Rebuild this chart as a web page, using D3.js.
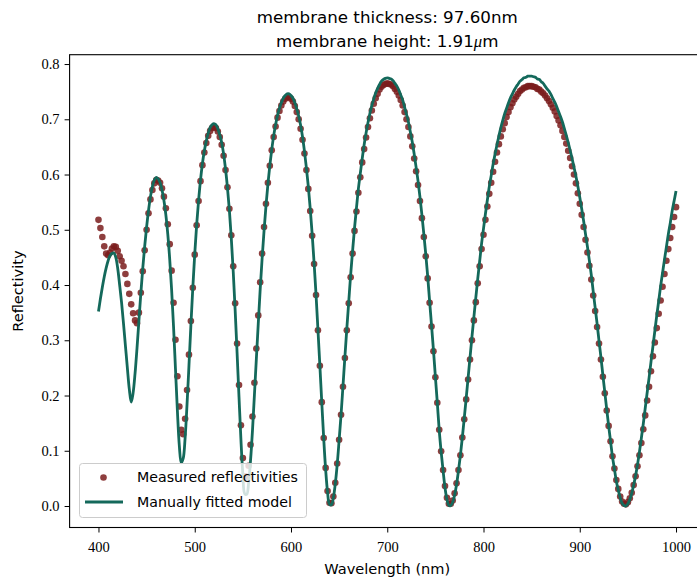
<!DOCTYPE html>
<html><head><meta charset="utf-8">
<script src="https://cdn.jsdelivr.net/npm/d3@7"></script>
<style>body{margin:0;background:#fff}</style>
</head><body><svg id="c" width="697" height="584"></svg>
<script>
// ---- data ----
const wavelengths = d3.range(400, 1001, 2);
const measured = [
.518,.503,.487,.470,.457,.454,.459,.466,.470,.469,
.462,.452,.444,.434,.420,.402,.384,.365,.349,.336,
.331,.350,.386,.425,.463,.500,.530,.555,.572,.584,
.590,.589,.585,.575,.560,.539,.510,.474,.426,.368,
.301,.235,.180,.138,.130,.158,.210,.274,.335,.395,
.455,.508,.552,.588,.617,.640,.657,.670,.679,.684,
.686,.684,.678,.668,.654,.634,.608,.577,.538,.490,
.434,.367,.294,.219,.146,.087,.054,.053,.073,.111,
.162,.223,.285,.345,.405,.457,.505,.547,.585,.616,
.644,.668,.687,.703,.715,.725,.732,.737,.740,.740,
.737,.732,.724,.713,.700,.683,.663,.638,.608,.574,
.534,.489,.438,.382,.318,.254,.188,.123,.069,.027,
.006,.005,.017,.042,.077,.120,.165,.216,.268,.318,
.367,.414,.457,.498,.533,.567,.595,.622,.646,.667,
.686,.702,.716,.728,.738,.746,.754,.759,.762,.764,
.765,.764,.763,.760,.755,.750,.743,.735,.725,.713,
.700,.686,.669,.651,.629,.606,.581,.552,.521,.487,
.452,.412,.368,.325,.280,.233,.187,.138,.099,.065,
.036,.015,.004,.004,.010,.023,.041,.065,.092,.124,
.157,.193,.229,.265,.300,.336,.369,.403,.434,.465,
.491,.518,.542,.565,.585,.605,.623,.640,.655,.669,
.682,.693,.704,.713,.722,.729,.736,.741,.746,.751,
.754,.757,.758,.760,.760,.760,.759,.758,.755,.754,
.750,.747,.743,.738,.733,.727,.721,.714,.706,.698,
.689,.679,.668,.656,.643,.630,.615,.600,.584,.566,
.547,.527,.505,.482,.459,.435,.410,.381,.353,.324,
.294,.265,.234,.204,.173,.145,.117,.090,.068,.047,
.031,.017,.008,.004,.003,.007,.014,.024,.038,.054,
.072,.092,.114,.139,.164,.191,.216,.244,.271,.296,
.322,.348,.372,.397,.420,.444,.465,.485,.505,.523,
.541];
const model = [
.352,.375,.396,.415,.431,.444,.453,.457,.458,.450,
.430,.400,.368,.330,.290,.250,.212,.188,.205,.240,
.285,.335,.385,.430,.470,.505,.535,.560,.578,.590,
.595,.592,.585,.572,.553,.527,.492,.447,.391,.324,
.248,.172,.109,.078,.086,.123,.184,.254,.327,.395,
.456,.509,.553,.590,.620,.643,.661,.675,.685,.690,
.692,.690,.683,.672,.658,.637,.610,.576,.535,.484,
.424,.354,.277,.197,.120,.057,.022,.021,.042,.083,
.137,.201,.266,.330,.392,.448,.498,.543,.582,.616,
.645,.670,.690,.707,.720,.730,.738,.743,.746,.746,
.743,.738,.730,.719,.706,.689,.668,.642,.612,.578,
.538,.492,.440,.383,.319,.254,.187,.122,.066,.025,
.003,.002,.015,.040,.075,.119,.165,.217,.270,.321,
.370,.419,.462,.503,.539,.574,.602,.629,.654,.675,
.694,.711,.725,.737,.748,.756,.763,.769,.772,.774,
.775,.774,.773,.770,.765,.760,.753,.744,.735,.722,
.709,.695,.677,.659,.637,.613,.588,.559,.527,.492,
.456,.416,.371,.327,.282,.234,.187,.137,.098,.064,
.033,.012,.001,.001,.007,.020,.039,.064,.092,.124,
.159,.195,.232,.269,.306,.342,.377,.411,.443,.475,
.502,.529,.554,.578,.598,.619,.637,.654,.670,.685,
.698,.710,.720,.730,.739,.746,.753,.759,.764,.769,
.772,.775,.776,.778,.778,.778,.777,.776,.773,.772,
.768,.765,.760,.755,.751,.745,.738,.731,.723,.714,
.705,.695,.683,.671,.658,.644,.629,.613,.597,.579,
.559,.538,.516,.492,.469,.444,.418,.388,.359,.330,
.299,.269,.237,.206,.175,.145,.117,.089,.067,.045,
.029,.015,.005,.001,.000,.004,.012,.023,.038,.055,
.075,.098,.123,.149,.177,.205,.232,.261,.289,.317,
.345,.371,.398,.422,.446,.469,.492,.512,.534,.552,
.570];
const xTickValues = [400, 500, 600, 700, 800, 900, 1000];
const yTickValues = [0.0, 0.1, 0.2, 0.3, 0.4, 0.5, 0.6, 0.7, 0.8];
const titleLine1 = "membrane thickness: 97.60nm";
const titleLine2a = "membrane height: 1.91";
const titleLine2mu = "\u03bc";
const titleLine2b = "m";
const xLabel = "Wavelength (nm)";
const yLabel = "Reflectivity";
const legendLabels = ["Measured reflectivities", "Manually fitted model"];

// ---- layout ----
const W = 697, H = 584;
const plot = {left: 69.6, right: 704.9, top: 54.7, bottom: 527.5};
const dotColor = "#7a1c1c", lineColor = "#14695b";
const serif = "'Liberation Serif', 'Times New Roman', serif";
const sans = "'DejaVu Sans', sans-serif";

const svg = d3.select("#c");
svg.append("rect").attr("width", W).attr("height", H).attr("fill", "#fff");

const x = d3.scaleLinear().domain([370, 1030]).range([plot.left, plot.right]);
const y = d3.scaleLinear().domain([-0.0389, 0.8169]).range([plot.bottom, plot.top]);

const pts = wavelengths.map((w, i) => ({w, m: measured[i], f: model[i]}));

const g = svg.append("g");
g.selectAll("circle.m").data(pts).join("circle")
  .attr("class", "m")
  .attr("cx", d => x(d.w)).attr("cy", d => y(d.m)).attr("r", 3.3)
  .attr("fill", dotColor).attr("fill-opacity", 0.85);

g.append("path").datum(pts)
  .attr("fill", "none").attr("stroke", lineColor).attr("stroke-width", 2.8)
  .attr("d", d3.line().x(d => x(d.w)).y(d => y(d.f)).curve(d3.curveCatmullRom));

// axes
const xAxis = d3.axisBottom(x).tickValues(xTickValues).tickSize(5).tickPadding(6).tickFormat(d3.format("d"));
const yAxis = d3.axisLeft(y).tickValues(yTickValues).tickSize(5).tickPadding(5).tickFormat(d3.format(".1f"));
const gx = svg.append("g").attr("transform", `translate(0,${plot.bottom})`).call(xAxis);
const gy = svg.append("g").attr("transform", `translate(${plot.left},0)`).call(yAxis);
[gx, gy].forEach(a => {
  a.select(".domain").remove();
  a.selectAll("line").attr("stroke", "#000").attr("stroke-width", 1);
  a.selectAll("text").attr("fill", "#000").style("font-family", serif).style("font-size", "14.5px");
});
gx.selectAll("text").attr("dy", "0.9em");
// frame
svg.append("rect").attr("x", plot.left).attr("y", plot.top)
  .attr("width", plot.right - plot.left).attr("height", plot.bottom - plot.top)
  .attr("fill", "none").attr("stroke", "#000").attr("stroke-width", 1.1);

// titles
const cx = (plot.left + plot.right) / 2;
svg.append("text").attr("x", cx).attr("y", 23).attr("text-anchor", "middle")
  .style("font-family", sans).style("font-size", "16.7px").text(titleLine1);
const t2 = svg.append("text").attr("x", cx).attr("y", 47).attr("text-anchor", "middle")
  .style("font-family", sans).style("font-size", "16.7px");
t2.append("tspan").text(titleLine2a);
t2.append("tspan").attr("font-style", "italic").style("font-family", serif).text(titleLine2mu);
t2.append("tspan").text(titleLine2b);

svg.append("text").attr("x", cx).attr("y", 574).attr("text-anchor", "middle")
  .style("font-family", sans).style("font-size", "14.6px").text(xLabel);
svg.append("text").attr("transform", `translate(23,${(plot.top + plot.bottom) / 2}) rotate(-90)`)
  .attr("text-anchor", "middle").style("font-family", sans).style("font-size", "14.6px").text(yLabel);

// legend
const lg = svg.append("g");
lg.append("rect").attr("x", 79.5).attr("y", 463.5).attr("width", 227).attr("height", 54).attr("rx", 3)
  .attr("fill", "#fff").attr("fill-opacity", 0.8).attr("stroke", "#cccccc").attr("stroke-width", 1);
lg.append("circle").attr("cx", 103.5).attr("cy", 477.5).attr("r", 3.3).attr("fill", dotColor).attr("fill-opacity", 0.85);
lg.append("line").attr("x1", 85).attr("x2", 123).attr("y1", 502).attr("y2", 502)
  .attr("stroke", lineColor).attr("stroke-width", 2.8);
legendLabels.forEach((t, i) => {
  lg.append("text").attr("x", 137).attr("y", 477.5 + i * 24.5).attr("dy", "0.35em")
    .style("font-family", sans).style("font-size", "14.2px").text(t);
});
</script>
</body></html>
